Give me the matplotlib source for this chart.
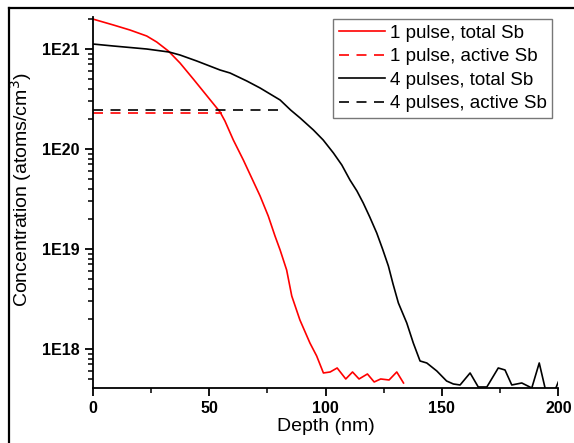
import numpy as np
import matplotlib
matplotlib.use('Agg')
import matplotlib.pyplot as plt
from matplotlib.lines import Line2D
from matplotlib.ticker import LogLocator, FixedLocator, MultipleLocator

plt.rcParams['font.family'] = ['Liberation Sans', 'DejaVu Sans']

# 1 pulse, total Sb (depth nm, log10 concentration)
d1 = [0, 8.9, 16, 23.2, 27.5, 32.5, 37.5, 43.2, 54.7, 56.8, 60.4, 64.7, 68.3,
      71.9, 75.4, 78.3, 80.5, 83.3, 85.5, 89, 93.3, 96.2, 99.1, 102, 105, 108.7, 111.6,
      114.4, 118, 120.9, 123.7, 127.3, 130.6, 133.5]
l1 = [21.30, 21.24, 21.19, 21.13, 21.07, 20.98, 20.86, 20.70, 20.37, 20.28,
      20.09, 19.89, 19.71, 19.53, 19.33, 19.13, 18.99, 18.79, 18.53, 18.29, 18.06, 17.93,
      17.76, 17.77, 17.81, 17.70, 17.77, 17.70, 17.75, 17.67, 17.70, 17.69, 17.77, 17.66]

# 4 pulses, total Sb
d4 = [0, 8.9, 23.2, 32.8, 37.5, 44.7, 54.7, 59, 66.2, 71.9, 80.5, 85, 89.1, 94.8, 99,
      103.4, 107, 110.5, 113.5, 116.2, 119, 122, 124.5, 127, 129, 131.3, 134.9, 137.7,
      140.6, 143.5, 147.8, 152, 154.9, 157.8, 162.1, 165.6, 169.3, 174.2, 177.1, 180,
      184.3, 188.6, 191.8, 194.3, 197, 200]
l4 = [21.05, 21.03, 21.0, 20.97, 20.94, 20.88, 20.79, 20.76, 20.68, 20.61, 20.49, 20.39,
      20.31, 20.19, 20.09, 19.96, 19.84, 19.69, 19.58, 19.46, 19.32, 19.16, 19.0, 18.83,
      18.65, 18.46, 18.26, 18.06, 17.88, 17.86, 17.78, 17.68, 17.65, 17.64, 17.76, 17.62,
      17.62, 17.81, 17.79, 17.64, 17.66, 17.61, 17.86, 17.61, 17.5, 17.67]

# active Sb levels (concentration, end depth)
act1, act1_end = 2.3e20, 55.4
act4, act4_end = 2.45e20, 80.5

labels = ['1 pulse, total Sb', '1 pulse, active Sb', '4 pulses, total Sb', '4 pulses, active Sb']

fig = plt.figure(figsize=(5.74, 4.43), dpi=100)
ax = fig.add_axes([0.1615, 0.1242, 0.8112, 0.8374])

dash = (0, (6, 4.5))
ax.plot(d1, 10 ** np.array(l1), color='red', lw=1.2, label=labels[0])
ax.plot([0, act1_end], [act1, act1], color='red', lw=1.2, ls=dash, label=labels[1])
ax.plot(d4, 10 ** np.array(l4), color='black', lw=1.2, label=labels[2])
ax.plot([0, act4_end], [act4, act4], color='black', lw=1.2, ls=dash, label=labels[3])

ax.set_yscale('log')
ax.set_xlim(0, 200)
ax.set_ylim(10 ** 17.61, 10 ** 21.32)

ax.xaxis.set_major_locator(MultipleLocator(50))
ax.xaxis.set_minor_locator(MultipleLocator(25))
ax.yaxis.set_major_locator(FixedLocator([1e18, 1e19, 1e20, 1e21]))
ax.yaxis.set_minor_locator(LogLocator(base=10, subs=np.arange(2, 10)))
ax.yaxis.set_minor_formatter(plt.NullFormatter())
ax.set_yticklabels(['1E18', '1E19', '1E20', '1E21'])

for s in ['top', 'right']:
    ax.spines[s].set_visible(False)
for s in ['left', 'bottom']:
    ax.spines[s].set_linewidth(1.3)

ax.tick_params(which='major', direction='out', length=6, width=1.3, labelsize=11.5)
ax.tick_params(which='minor', direction='out', length=3.5, width=1.1)
for t in ax.get_xticklabels() + ax.get_yticklabels():
    t.set_fontweight('bold')

ax.set_xlabel('Depth (nm)', fontsize=14, labelpad=1)
ax.set_ylabel('Concentration (atoms/cm$^3$)', fontsize=14)
ax.yaxis.set_label_coords(-0.127, 0.534)

leg = ax.legend(loc='upper right', bbox_to_anchor=(0.987, 0.995), fontsize=13.5,
                frameon=True, fancybox=False, handlelength=2.45, handletextpad=0.27,
                borderpad=0.3, labelspacing=0.34, borderaxespad=0)
leg.get_frame().set_edgecolor('#555555')
leg.get_frame().set_linewidth(1.0)

# figure border
fig.add_artist(Line2D([9 / 574, 9 / 574], [0, 1 - 8 / 443], color='black', lw=1.6))
fig.add_artist(Line2D([9 / 574, 1], [1 - 8 / 443, 1 - 8 / 443], color='black', lw=1.6))

fig.savefig('out.png', dpi=100)
